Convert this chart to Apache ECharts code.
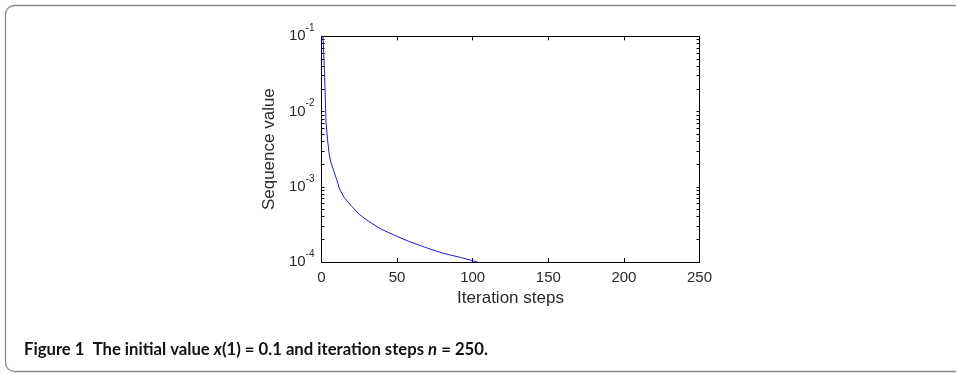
<!DOCTYPE html>
<html>
<head>
<meta charset="utf-8">
<script src="https://cdn.jsdelivr.net/npm/echarts@6/dist/echarts.min.js"></script>
<style>
html,body{margin:0;padding:0;background:#fff;}
#c{width:956px;height:374px;}
</style>
</head>
<body>
<div id="c"></div>
<script>
// Data
var steps = [1, 2, 3, 4, 5, 6, 8, 10, 12, 15, 20, 25, 30, 35, 40, 48, 58, 70, 80, 92, 100, 104];
var values = [0.1, 0.032, 0.0072, 0.0042, 0.0028, 0.0022, 0.00165, 0.00125, 0.00093, 0.00072, 0.00055, 0.00043, 0.00036, 0.00031, 0.00027, 0.000228, 0.000187, 0.000153, 0.000131, 0.000115, 0.000104, 0.0000985];
var xTicks = [0, 50, 100, 150, 200, 250];
var yMajor = [1e-4, 1e-3, 1e-2, 1e-1];
var yExponents = ['-4', '-3', '-2', '-1'];
var yMinor = [];
for (var d = 0; d < 3; d++) {
  for (var k = 1; k <= 9; k++) yMinor.push(k * yMajor[d]);
}
yMinor.push(1e-1);
var captionParts = ['Figure 1  The initial value ', 'x', '(1) = 0.1 and iteration steps ', 'n', ' = 250.'];

var chart = echarts.init(document.getElementById('c'));
var labelFont = 'Liberation Sans, Arial, sans-serif';
var pts = steps.map(function (s, i) { return [s, values[i]]; });

function expOf(v) {
  var best = 0, bd = Infinity;
  for (var i = 0; i < yMajor.length; i++) {
    var dd = Math.abs(Math.log10(v) - Math.log10(yMajor[i]));
    if (dd < bd) { bd = dd; best = i; }
  }
  return yExponents[best];
}

chart.setOption({
  backgroundColor: '#fff',
  animation: false,
  grid: {left: 321.5, right: 256.5, top: 36.3, bottom: 112, containLabel: false},
  xAxis: [{
    type: 'value', min: 0, max: 250, interval: 50,
    name: 'Iteration steps', nameLocation: 'middle', nameGap: 26.5,
    nameTextStyle: {fontFamily: labelFont, fontSize: 17, color: '#2a2a2a'},
    axisLine: {show: true, onZero: false, lineStyle: {color: '#000', width: 1}},
    axisTick: {show: true, inside: true, length: 4, lineStyle: {color: '#000'}},
    axisLabel: {fontFamily: labelFont, fontSize: 15, color: '#2a2a2a', margin: 8,
      customValues: xTicks},
    splitLine: {show: false}
  }, {
    type: 'value', min: 0, max: 250, interval: 50, position: 'top',
    axisLine: {show: true, onZero: false, lineStyle: {color: '#000', width: 1}},
    axisTick: {show: true, inside: true, length: 4, lineStyle: {color: '#000'}},
    axisLabel: {show: false}, splitLine: {show: false}
  }],
  yAxis: [{
    type: 'log', logBase: 10, min: 1e-4, max: 1e-1,
    name: 'Sequence value', nameLocation: 'middle', nameGap: 44, nameRotate: 90,
    nameTextStyle: {fontFamily: labelFont, fontSize: 17, color: '#2a2a2a'},
    axisLine: {show: true, onZero: false, lineStyle: {color: '#000', width: 1}},
    axisTick: {show: true, inside: true, length: 3, lineStyle: {color: '#000'}, customValues: yMinor},
    minorTick: {show: false},
    axisLabel: {
      customValues: yMajor, margin: 7,
      formatter: function (v) {
        return '{b|10}{s|' + expOf(v) + '}';
      },
      rich: {
        b: {fontFamily: labelFont, fontSize: 15, color: '#2a2a2a', verticalAlign: 'middle', lineHeight: 26},
        s: {fontFamily: labelFont, fontSize: 10, color: '#2a2a2a', verticalAlign: 'top', lineHeight: 14}
      }
    },
    splitLine: {show: false}
  }, {
    type: 'log', logBase: 10, min: 1e-4, max: 1e-1, position: 'right',
    axisLine: {show: true, onZero: false, lineStyle: {color: '#000', width: 1}},
    axisTick: {show: true, inside: true, length: 3, lineStyle: {color: '#000'}, customValues: yMinor},
    axisLabel: {show: false}, splitLine: {show: false}
  }],
  series: [{
    type: 'line', xAxisIndex: 0, yAxisIndex: 0, data: pts,
    showSymbol: false, clip: true, smooth: false,
    lineStyle: {color: '#1a1ad8', width: 1}
  }],
  graphic: [{
    type: 'rect', silent: true,
    shape: {x: 5.5, y: 5.5, width: 1000, height: 366, r: 9},
    style: {fill: 'none', stroke: '#8a8a8a', lineWidth: 1.3}
  }, {
    type: 'text', left: 24, top: 341,
    style: {
      text: '{a|' + captionParts[0] + '}{i|' + captionParts[1] + '}{a|' + captionParts[2] + '}{i|' + captionParts[3] + '}{a|' + captionParts[4] + '}',
      rich: {
        a: {fontFamily: 'Lato, sans-serif', fontWeight: 'bold', fontSize: 16.7, fill: '#111'},
        i: {fontFamily: 'Lato, sans-serif', fontWeight: 'bold', fontStyle: 'italic', fontSize: 16.7, fill: '#111'}
      }
    }
  }]
});
</script>
</body>
</html>
